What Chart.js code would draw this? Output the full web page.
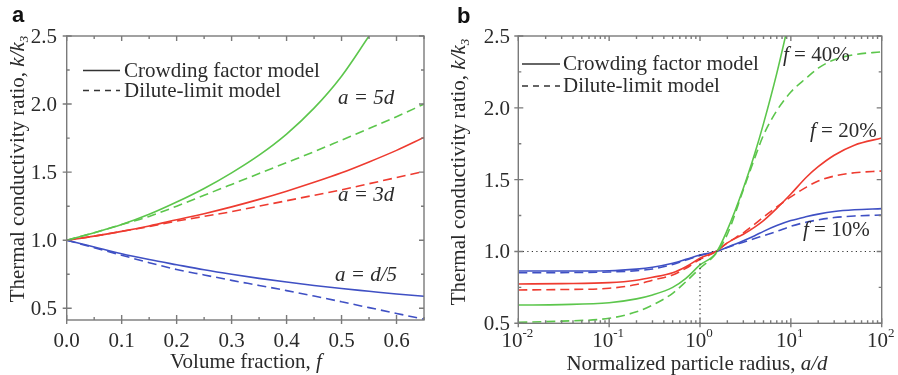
<!DOCTYPE html>
<html>
<head>
<meta charset="utf-8">
<title>Thermal conductivity ratio</title>
<script src="https://cdn.jsdelivr.net/npm/chart.js@4.4.0/dist/chart.umd.min.js"></script>
<style>
  html, body { margin: 0; padding: 0; background: #fff; }
  #wrap { position: relative; width: 898px; height: 375px; overflow: hidden; }
  #chartA { position: absolute; left: 0; top: 0; }
  #chartB { position: absolute; left: 440px; top: 0; }
</style>
</head>
<body>
<div id="wrap">
  <canvas id="chartA" width="450" height="375"></canvas>
  <canvas id="chartB" width="458" height="375"></canvas>
</div>
<script>
// panel a: ratio vs volume fraction f
const fracA    = [0, 0.05, 0.1, 0.15, 0.2, 0.25, 0.3, 0.35, 0.4, 0.45, 0.5, 0.55, 0.6, 0.65];
const crowd5d  = [1.0, 1.055, 1.115, 1.19, 1.28, 1.38, 1.495, 1.625, 1.78, 1.97, 2.205, 2.5, null, null];
const dilute5d = [1.0, 1.055, 1.115, 1.175, 1.25, 1.33, 1.41, 1.49, 1.57, 1.65, 1.735, 1.82, 1.907, 2.0];
const crowd3d  = [1.0, 1.03, 1.065, 1.105, 1.15, 1.195, 1.245, 1.30, 1.36, 1.425, 1.495, 1.575, 1.66, 1.755];
const dilute3d = [1.0, 1.03, 1.065, 1.10, 1.14, 1.175, 1.21, 1.25, 1.29, 1.33, 1.37, 1.415, 1.46, 1.505];
const crowdD5  = [1.0, 0.95, 0.90, 0.858, 0.82, 0.783, 0.75, 0.72, 0.693, 0.668, 0.645, 0.625, 0.605, 0.588];
const diluteD5 = [1.0, 0.945, 0.89, 0.835, 0.785, 0.745, 0.705, 0.668, 0.63, 0.59, 0.548, 0.505, 0.462, 0.42];

// panel b: ratio vs normalized particle radius a/d
const radiusB  = [0.01, 0.03, 0.1, 0.2, 0.3, 0.5, 0.7, 1, 1.5, 2, 3, 4, 5, 7, 10, 15, 20, 30, 50, 100];
const crowd10  = [0.864, 0.864, 0.866, 0.877, 0.89, 0.918, 0.945, 0.975, 1.0, 1.03, 1.075, 1.11, 1.14, 1.18, 1.215, 1.243, 1.26, 1.278, 1.29, 1.298];
const dilute10 = [0.852, 0.853, 0.857, 0.866, 0.878, 0.91, 0.94, 0.972, 1.0, 1.028, 1.065, 1.09, 1.11, 1.14, 1.175, 1.205, 1.22, 1.236, 1.247, 1.254];
const crowd20  = [0.774, 0.776, 0.783, 0.80, 0.82, 0.852, 0.894, 0.953, 1.0, 1.06, 1.12, 1.17, 1.215, 1.30, 1.40, 1.52, 1.59, 1.67, 1.74, 1.79];
const dilute20 = [0.732, 0.735, 0.744, 0.77, 0.80, 0.836, 0.883, 0.945, 1.0, 1.06, 1.13, 1.19, 1.24, 1.31, 1.38, 1.45, 1.49, 1.525, 1.548, 1.56];
const crowd40  = [0.627, 0.63, 0.643, 0.67, 0.697, 0.75, 0.813, 0.906, 0.99, 1.15, 1.44, 1.68, 1.89, 2.24, 2.66, null, null, null, null, null];
const dilute40 = [0.507, 0.515, 0.535, 0.58, 0.627, 0.709, 0.79, 0.883, 0.985, 1.12, 1.43, 1.65, 1.81, 1.98, 2.11, 2.21, 2.276, 2.335, 2.37, 2.39];

// dotted guides in panel b
const guideHx = [0.01, 100], guideHy = [1, 1];
const guideVx = [1, 1],      guideVy = [0.5, 1];

// ticks
const xTicksA = [0, 0.1, 0.2, 0.3, 0.4, 0.5, 0.6];
const xMinorA = [0.05, 0.15, 0.25, 0.35, 0.45, 0.55, 0.65];
const yTicks  = [0.5, 1.0, 1.5, 2.0, 2.5];
const yMinor  = [0.75, 1.25, 1.75, 2.25];
const decadesB = [-2, -1, 0, 1, 2];

const greenC = '#5cc64c', redC = '#ee3b30', blueC = '#3f50c4';
const frameC = '#7a7a7a', textC = '#2b2b2b';
const serif = '"Liberation Serif", "Times New Roman", serif';
const F  = '21px ' + serif;
const FI = 'italic 21px ' + serif;

function series(xs, ys) {
  return xs.map((x, i) => ({ x, y: ys[i] })).filter(p => p.y !== null);
}

function lineSet(label, xs, ys, color, dashed) {
  return {
    label, data: series(xs, ys),
    borderColor: color, borderWidth: 1.6,
    borderDash: dashed ? [9, 5] : [],
    pointRadius: 0, fill: false,
    cubicInterpolationMode: 'monotone'
  };
}

function guideSet(xs, ys) {
  return {
    label: 'guide', data: series(xs, ys),
    borderColor: '#333', borderWidth: 1.2, borderDash: [1.2, 3.3],
    pointRadius: 0, fill: false, tension: 0
  };
}

// draw a list of text runs [{t, f, dy}] starting at x (or centred on x)
function runs(ctx, parts, x, y, align) {
  let w = 0;
  parts.forEach(p => { ctx.font = p.f; w += ctx.measureText(p.t).width; });
  let cx = align === 'center' ? x - w / 2 : x;
  ctx.textAlign = 'left';
  parts.forEach(p => {
    ctx.font = p.f;
    ctx.fillText(p.t, cx, y + (p.dy || 0));
    cx += ctx.measureText(p.t).width;
  });
}

function decor(o) {
  return {
    id: 'decor',
    afterDatasetsDraw(chart) {
      const { ctx, chartArea: a } = chart;
      const X = v => chart.scales.x.getPixelForValue(v);
      const Y = v => chart.scales.y.getPixelForValue(v);
      const off = o.off;
      ctx.save();
      ctx.setLineDash([]);
      ctx.strokeStyle = frameC;
      ctx.lineWidth = 1.4;
      ctx.strokeRect(a.left, a.top, a.right - a.left, a.bottom - a.top);

      ctx.beginPath();
      o.xMajor.forEach(v => {
        const p = X(v);
        ctx.moveTo(p, a.bottom + 4); ctx.lineTo(p, a.bottom - 5);
        ctx.moveTo(p, a.top); ctx.lineTo(p, a.top + 5);
      });
      o.xMinor.forEach(v => {
        const p = X(v);
        ctx.moveTo(p, a.bottom); ctx.lineTo(p, a.bottom - 3);
        ctx.moveTo(p, a.top); ctx.lineTo(p, a.top + 3);
      });
      yTicks.forEach(v => {
        const p = Y(v);
        ctx.moveTo(a.left - 4, p); ctx.lineTo(a.left + 5, p);
        ctx.moveTo(a.right, p); ctx.lineTo(a.right - 5, p);
      });
      yMinor.forEach(v => {
        const p = Y(v);
        ctx.moveTo(a.left, p); ctx.lineTo(a.left + 3, p);
        ctx.moveTo(a.right, p); ctx.lineTo(a.right - 3, p);
      });
      ctx.stroke();

      ctx.fillStyle = textC;
      ctx.textBaseline = 'alphabetic';

      // y tick labels
      ctx.font = F;
      ctx.textAlign = 'right';
      yTicks.forEach(v => ctx.fillText(v.toFixed(1), o.yLabelX - off, Y(v) + 7));

      // x tick labels
      if (o.log) {
        decadesB.forEach(d => {
          runs(ctx, [{ t: '10', f: F }, { t: String(d), f: '13px ' + serif, dy: -9.5 }], X(Math.pow(10, d)) - 1, 346.5, 'center');
        });
      } else {
        ctx.textAlign = 'center';
        o.xMajor.forEach(v => ctx.fillText(v.toFixed(1), X(v), 346.5));
      }

      // axis titles
      runs(ctx, o.xTitle, o.xTitlePos[0] - off, o.xTitlePos[1], 'center');
      ctx.save();
      ctx.translate(o.yTitlePos[0] - off, o.yTitlePos[1]);
      ctx.rotate(-Math.PI / 2);
      runs(ctx, [
        { t: 'Thermal conductivity ratio, ', f: F },
        { t: 'k/k', f: FI },
        { t: '3', f: 'italic 13px ' + serif, dy: 4 }
      ], 0, 0, 'center');
      ctx.restore();

      // panel letter
      ctx.font = 'bold 22px "Liberation Sans", Arial, sans-serif';
      ctx.textAlign = 'left';
      ctx.fillStyle = '#111';
      ctx.fillText(o.letter, o.letterPos[0] - off, o.letterPos[1]);

      // legend
      const lg = o.legend;
      ctx.strokeStyle = '#333';
      ctx.lineWidth = 1.6;
      ctx.beginPath();
      ctx.moveTo(lg.x0 - off, lg.y1); ctx.lineTo(lg.x1 - off, lg.y1);
      ctx.stroke();
      ctx.setLineDash([6, 5]);
      ctx.beginPath();
      ctx.moveTo(lg.x0 - off, lg.y2); ctx.lineTo(lg.x1 - off, lg.y2);
      ctx.stroke();
      ctx.setLineDash([]);
      ctx.fillStyle = textC;
      ctx.font = F;
      ctx.fillText('Crowding factor model', lg.tx - off, lg.y1 + 6);
      ctx.fillText('Dilute-limit model', lg.tx - off, lg.y2 + 6);

      // curve labels
      o.notes.forEach(n => runs(ctx, n.parts, n.x - off, n.y, 'left'));
      ctx.restore();
    }
  };
}

function options(xScale, padding) {
  return {
    responsive: false,
    animation: false,
    devicePixelRatio: 1,
    layout: { padding },
    plugins: { legend: { display: false }, tooltip: { enabled: false } },
    scales: {
      x: Object.assign({ display: false }, xScale),
      y: { type: 'linear', display: false, min: xScale.yMin, max: 2.5 }
    }
  };
}

new Chart(document.getElementById('chartA'), {
  type: 'line',
  data: {
    datasets: [
      lineSet('a = 5d crowding', fracA, crowd5d, greenC, false),
      lineSet('a = 5d dilute', fracA, dilute5d, greenC, true),
      lineSet('a = 3d crowding', fracA, crowd3d, redC, false),
      lineSet('a = 3d dilute', fracA, dilute3d, redC, true),
      lineSet('a = d/5 crowding', fracA, crowdD5, blueC, false),
      lineSet('a = d/5 dilute', fracA, diluteD5, blueC, true)
    ]
  },
  options: options({ type: 'linear', min: 0, max: 0.65, yMin: 0.414 },
                   { left: 66.7, top: 36, right: 26, bottom: 55 }),
  plugins: [decor({
    off: 0, log: false, letter: 'a', letterPos: [12, 22],
    xMajor: xTicksA, xMinor: xMinorA, yLabelX: 57,
    xTitle: [{ t: 'Volume fraction, ', f: F }, { t: 'f', f: FI }],
    xTitlePos: [246, 368], yTitlePos: [24, 169],
    legend: { x0: 83, x1: 120, tx: 124, y1: 70.5, y2: 90.5 },
    notes: [
      { x: 338, y: 104, parts: [{ t: 'a = 5d', f: FI }] },
      { x: 338, y: 201, parts: [{ t: 'a = 3d', f: FI }] },
      { x: 335, y: 281, parts: [{ t: 'a = d/5', f: FI }] }
    ]
  })]
});

const minorB = [];
decadesB.slice(0, -1).forEach(d => {
  for (let m = 2; m <= 9; m++) minorB.push(m * Math.pow(10, d));
});

new Chart(document.getElementById('chartB'), {
  type: 'line',
  data: {
    datasets: [
      guideSet(guideHx, guideHy),
      guideSet(guideVx, guideVy),
      lineSet('f = 40% crowding', radiusB, crowd40, greenC, false),
      lineSet('f = 40% dilute', radiusB, dilute40, greenC, true),
      lineSet('f = 20% crowding', radiusB, crowd20, redC, false),
      lineSet('f = 20% dilute', radiusB, dilute20, redC, true),
      lineSet('f = 10% crowding', radiusB, crowd10, blueC, false),
      lineSet('f = 10% dilute', radiusB, dilute10, blueC, true)
    ]
  },
  options: options({ type: 'logarithmic', min: 0.01, max: 100, yMin: 0.5 },
                   { left: 78.3, top: 36, right: 16.3, bottom: 51.7 }),
  plugins: [decor({
    off: 440, log: true, letter: 'b', letterPos: [457, 23],
    xMajor: decadesB.map(d => Math.pow(10, d)), xMinor: minorB, yLabelX: 510,
    xTitle: [{ t: 'Normalized particle radius, ', f: F }, { t: 'a/d', f: FI }],
    xTitlePos: [697, 370], yTitlePos: [465, 172],
    legend: { x0: 522, x1: 560, tx: 563, y1: 64, y2: 86 },
    notes: [
      { x: 783, y: 61,  parts: [{ t: 'f', f: FI }, { t: ' = 40%', f: F }] },
      { x: 810, y: 137, parts: [{ t: 'f', f: FI }, { t: ' = 20%', f: F }] },
      { x: 803, y: 236, parts: [{ t: 'f', f: FI }, { t: ' = 10%', f: F }] }
    ]
  })]
});
</script>
</body>
</html>
